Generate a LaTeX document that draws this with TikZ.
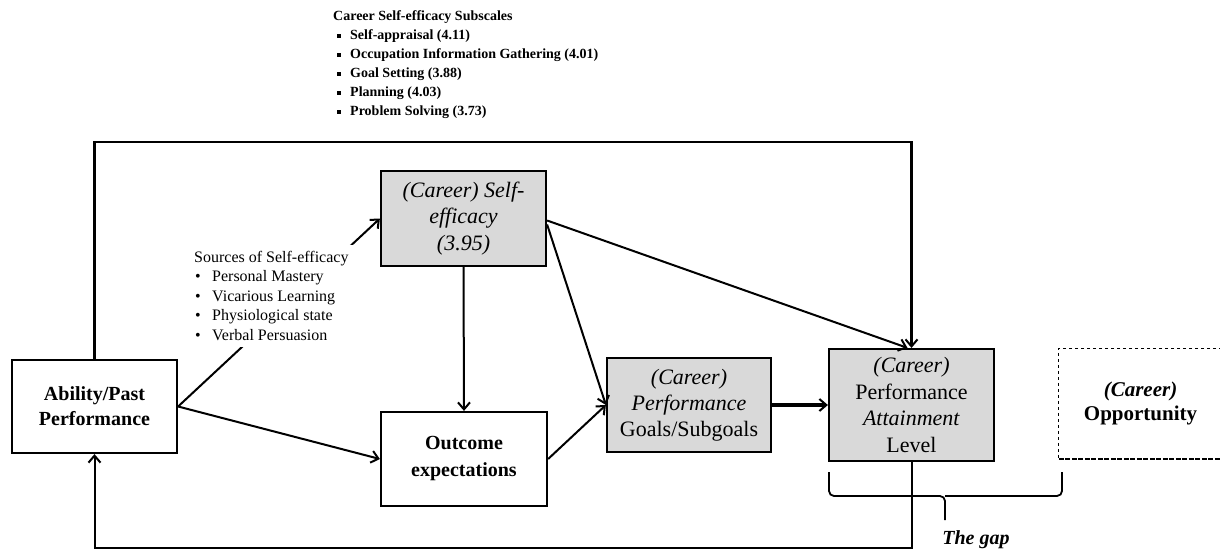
\documentclass[tikz,border=0pt]{standalone}
\usepackage{fontspec}
\setmainfont{Liberation Serif}
\usetikzlibrary{positioning,shapes,arrows.meta,fit,calc}
\definecolor{boxgray}{RGB}{217,217,217}
\newcommand{\sqbullet}{\rule[0.25ex]{0.3em}{0.3em}}

\begin{document}
\begin{tikzpicture}[x=1pt,y=-1pt,
    box/.style={rectangle,draw,line width=2.2pt,inner sep=0pt,align=center},
    graybox/.style={box,fill=boxgray},
    link/.style={line width=2pt,-{Straight Barb[length=7pt,width=12pt,line width=2pt]}},
    loopline/.style={link,line width=2.6pt}]
    \useasboundingbox (0,0) rectangle (1220,554);

    % boxes of the model
    \node[box,minimum width=165pt,minimum height=93pt,font=\fontsize{20}{25}\selectfont\bfseries] (ability) at (94.5,406.5) {Ability/Past\\Performance};
    \node[graybox,minimum width=165pt,minimum height=95pt,font=\fontsize{22}{26.5}\selectfont\itshape] (selfeff) at (463.5,218.5) {(Career) Self-\\efficacy\\(3.95)};
    \node[box,minimum width=166pt,minimum height=94pt,font=\fontsize{20}{27}\selectfont\bfseries] (outcome) at (464,459) {Outcome\\expectations};
    \node[graybox,minimum width=164pt,minimum height=94pt,font=\fontsize{22}{26}\selectfont] (goals) at (689,405) {\textit{(Career)}\\\textit{Performance}\\Goals/Subgoals};
    \node[graybox,minimum width=165pt,minimum height=112pt,font=\fontsize{22}{26.7}\selectfont] (attain) at (911.5,405) {\textit{(Career)}\\Performance\\\textit{Attainment}\\Level};
    \node[rectangle,inner sep=0pt,align=center,minimum width=163pt,minimum height=110pt,font=\fontsize{21}{24}\selectfont\bfseries] (opport) at (1140.5,403.5) {\textit{(Career)}\\Opportunity};
    \draw[line width=0.9pt,dashed] (opport.north east) -- (opport.north west) -- (opport.south west);
    \draw[line width=2pt,dash pattern=on 5pt off 1.5pt] (opport.south west) -- (opport.south east);

    % connectors
    \draw[link] (ability.east) -- (selfeff.west);
    \draw[link] (ability.east) -- (outcome.west);
    \draw[link] (selfeff.south) -- (outcome.north);
    \draw[link] ([yshift=-6pt]selfeff.east) -- (goals.west);
    \draw[link] ([yshift=-2pt]selfeff.east) -- ([xshift=-4pt]attain.north);
    \draw[link] (outcome.east) -- (goals.west);
    \draw[link,line width=3.2pt] (goals.east) -- (attain.west);

    % loops
    \coordinate (toploop) at (500,142);
    \coordinate (backloop) at (500,548);
    \draw[loopline] (ability.north) |- (toploop) -| (attain.north);
    \draw[link] (attain.south) |- (backloop) -| (ability.south);

    % the gap
    \coordinate (gapL) at (829,472);
    \coordinate (gapR) at (1062,472);
    \coordinate (gapmid) at (945,496);
    \coordinate (gaptip) at (945,520);
    \draw[line width=1.8pt,rounded corners=5pt] (gapL) |- (gapmid) -- (gaptip);
    \draw[line width=1.8pt,rounded corners=5pt] (gapR) |- (gapmid);
    \node[font=\fontsize{20}{24}\selectfont\bfseries\itshape] (gaplabel) at (976,540) {The gap};

    % lists
    \node[rectangle,fill=white,inner sep=6pt,anchor=north west,align=left,font=\fontsize{16}{19.5}\selectfont] (sources) at (188,245) {Sources of Self-efficacy\\
        \hspace*{1pt}\makebox[17pt][l]{\textbullet}Personal Mastery\\
        \hspace*{1pt}\makebox[17pt][l]{\textbullet}Vicarious Learning\\
        \hspace*{1pt}\makebox[17pt][l]{\textbullet}Physiological state\\
        \hspace*{1pt}\makebox[17pt][l]{\textbullet}Verbal Persuasion};
    \node[rectangle,inner sep=0pt,anchor=north west,align=left,font=\fontsize{14}{19}\selectfont\bfseries] (subscales) at (333,10.5) {Career Self-efficacy Subscales\\
        \hspace*{4pt}\makebox[13pt][l]{\sqbullet}Self-appraisal (4.11)\\
        \hspace*{4pt}\makebox[13pt][l]{\sqbullet}Occupation Information Gathering (4.01)\\
        \hspace*{4pt}\makebox[13pt][l]{\sqbullet}Goal Setting (3.88)\\
        \hspace*{4pt}\makebox[13pt][l]{\sqbullet}Planning (4.03)\\
        \hspace*{4pt}\makebox[13pt][l]{\sqbullet}Problem Solving (3.73)};
\end{tikzpicture}
\end{document}
